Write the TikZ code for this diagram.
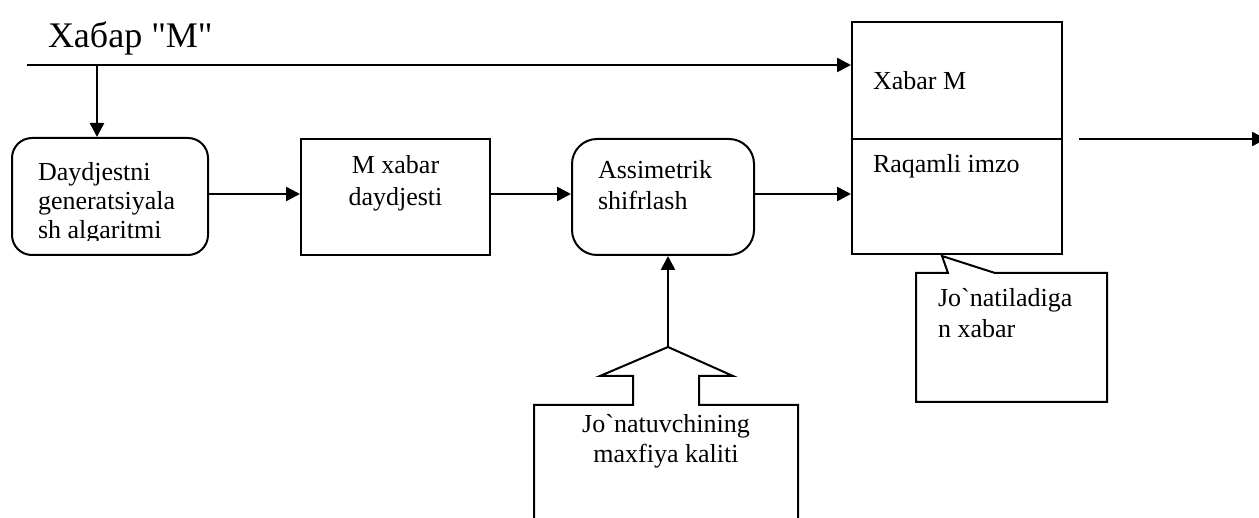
\documentclass[tikz,border=0pt]{standalone}
\usepackage{fontspec}
\setmainfont{Liberation Serif}
\newfontfamily\tnr{Liberation Serif}
\usetikzlibrary{arrows.meta}
\begin{document}
\begin{tikzpicture}[x=1pt,y=-1pt, line width=2pt,
  lbl/.style={font=\tnr\fontsize{26}{30}\selectfont, inner sep=0pt, anchor=base west},
  lblc/.style={lbl, anchor=base},
  box/.style={draw, line width=2pt, inner sep=0pt},
  arr/.style={-{Triangle[length=14pt,width=14pt]}, line width=2.5pt},
  thin/.style={line width=2pt}]
\useasboundingbox (0,0) rectangle (1259,518);
\clip (0,0) rectangle (1259,518);

% title
\node[lbl, font=\tnr\fontsize{36}{40}\selectfont] (title) at (47,48) {Хабар "М"};

% boxes
\node[box, rounded corners=20pt, minimum width=196pt, minimum height=117pt] (b1) at (110,196.5) {};
\node[box, minimum width=189pt, minimum height=116pt] (b2) at (395.5,197) {};
\node[box, rounded corners=25pt, minimum width=182pt, minimum height=116pt] (b3) at (663,197) {};
\node[box, minimum width=210pt, minimum height=232pt] (b4) at (957,138) {};
\coordinate (div) at (0,139);
\draw (b4.west |- div) -- (b4.east |- div);

% box texts
\begin{scope}
\clip (12,138) rectangle (208,241);
\node[lbl] (t1a) at (37,181) {Daydjestni};
\node[lbl] (t1b) at (37,210) {generatsiyala};
\node[lbl] (t1c) at (37,239) {sh algaritmi};
\end{scope}
\node[lblc] (t2a) at (395.5,174) {M xabar};
\node[lblc] (t2b) at (395.5,206) {daydjesti};
\node[lbl] (t3a) at (597,179) {Assimetrik};
\node[lbl] (t3b) at (597,210) {shifrlash};
\node[lbl] (t4a) at (872,90) {Xabar M};
\node[lbl] (t4b) at (872,173) {Raqamli imzo};

% connectors
\coordinate (in) at (27,65);
\coordinate (tap) at (97,65);
\draw[arr] (in) -- (in -| b4.west);
\draw[arr] (tap) -- (tap |- b1.north);
\coordinate (lev) at (0,194);
\draw[arr] (b1.east |- lev) -- (b2.west |- lev);
\draw[arr] (b2.east |- lev) -- (b3.west |- lev);
\draw[arr] (b3.east |- lev) -- (b4.west |- lev);
\coordinate (o1) at (1079,139);
\coordinate (o2) at (1266,139);
\draw[arr] (o1) -- (o2);

% key (up arrow callout)
\draw[thin] (534,530) -- (534,405) -- (633,405) -- (633,376) -- (600,376) -- (668,347)
  -- (733,376) -- (699,376) -- (699,405) -- (798,405) -- (798,530);
\coordinate (apex) at (668,347);
\draw[arr] (apex) -- (apex |- b3.south);
\node[lblc] (k1) at (666,433) {Jo`natuvchining};
\node[lblc] (k2) at (666,463) {maxfiya kaliti};

% callout
\draw[thin, fill=white] (916,273) -- (948,273) -- (942,256) -- (995,273) -- (1107,273)
  -- (1107,402) -- (916,402) -- cycle;
\node[lbl] (c1) at (937,307) {Jo`natiladiga};
\node[lbl] (c2) at (937,338) {n xabar};
\end{tikzpicture}
\end{document}
